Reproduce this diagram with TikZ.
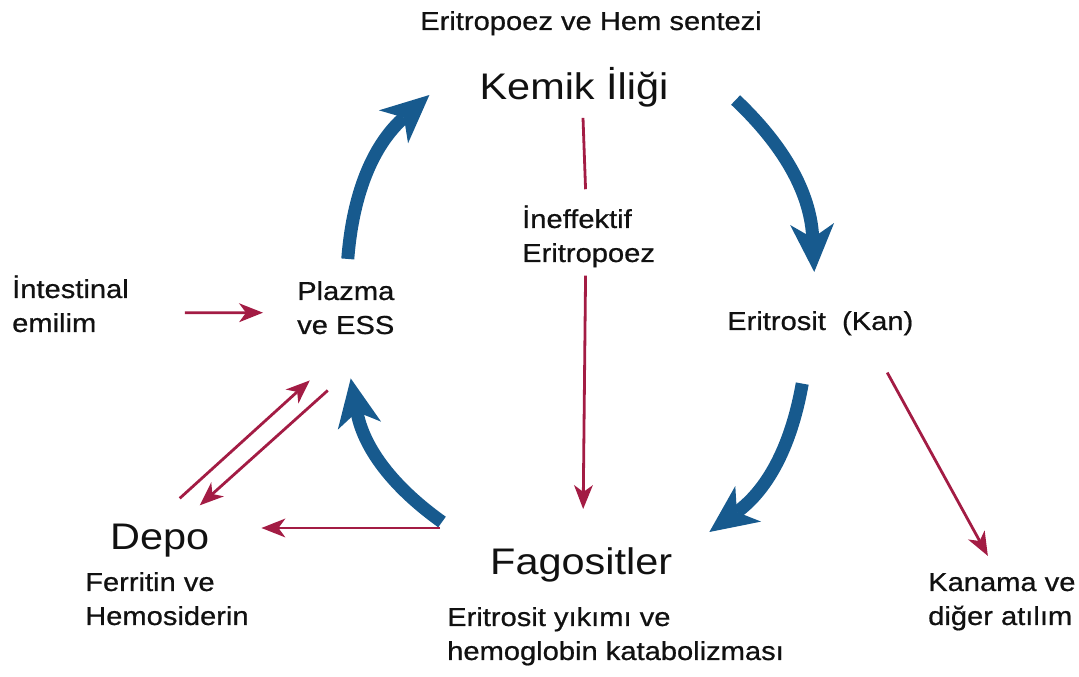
\documentclass[tikz,border=0pt]{standalone}
\usepackage{fontspec}
\setmainfont{Liberation Sans}[FakeStretch=1.12]
\newfontfamily\lblfont{Liberation Sans}[FakeStretch=1.12, FakeBold=0.7]
\usetikzlibrary{arrows.meta}
\definecolor{ironBlue}{HTML}{175A8E}
\definecolor{ironRed}{HTML}{A31C44}
\definecolor{ironInk}{HTML}{111111}
\tikzset{
  lbl/.style={inner sep=0pt, font=\lblfont\fontsize{26}{34}\selectfont, text=ironInk, align=left},
  big/.style={inner sep=0pt, font=\fontsize{37}{40}\selectfont, text=ironInk},
  flow/.style={-{Stealth[length=48pt,width=44pt,inset=14pt,line width=0pt]}, line width=13pt, draw=ironBlue},
  leak/.style={-{Stealth[length=24pt,width=19pt,inset=7pt,line width=0pt]}, line width=2.8pt, draw=ironRed},
}
\begin{document}
\begin{tikzpicture}[x=1pt,y=1pt]
\useasboundingbox (0,0) rectangle (1079,677);
% labels
\node[lbl, anchor=base] (synth) at (591,647) {Eritropoez ve Hem sentezi};
\node[big, anchor=base] (marrow) at (574,577) {Kemik İliği};
\node[lbl, anchor=base west] (ineff) at (522,415) {İneffektif\\Eritropoez};
\node[lbl, anchor=base west] (intest) at (12,345) {İntestinal\\emilim};
\node[lbl, anchor=base west] (plasma) at (297,343) {Plazma\\ve ESS};
\node[lbl, anchor=base west] (rbc) at (727,347) {Eritrosit\ \ (Kan)};
\node[big, anchor=base west] (depot) at (110,127) {Depo};
\node[lbl, anchor=base west] (ferr) at (85,52) {Ferritin ve\\Hemosiderin};
\node[big, anchor=base west] (phago) at (490,102) {Fagositler};
\node[lbl, anchor=base west] (lysis) at (447,17) {Eritrosit yıkımı ve\\hemoglobin katabolizması};
\node[lbl, anchor=base west] (loss) at (928,52) {Kanama ve\\diğer atılım};
% main cycle
\draw[flow] ([shift={(2,22)}]plasma.north) to[bend left=22] ([shift={(-50,5)}]marrow.base west);
\draw[flow] ([shift={(67,0)}]marrow.base east) to[bend left=22] ([shift={(-6,39)}]rbc.north);
\draw[flow] ([shift={(-18,-48)}]rbc.south) to[bend left=22] ([shift={(37,43)}]phago.base east);
\draw[flow] ([shift={(-48,53)}]phago.base west) to[bend left=22] ([shift={(5,-44)}]plasma.south);
% side paths
\draw[draw=ironRed, line width=2.8pt] ([shift={(9,-10)}]marrow.south) -- ([shift={(-3,16)}]ineff.north);
\draw[leak] ([shift={(-3,-8)}]ineff.south) -- ([shift={(2,39)}]phago.north);
\draw[leak] ([shift={(56,-9)}]intest.east) -- ([shift={(-34,-5)}]plasma.west);
\draw[leak] ([shift={(-50,47)}]phago.base west) -- ([shift={(52,22)}]depot.base east);
\draw[leak] ([shift={(20,26)}]depot.north) -- ([shift={(-36,-46)}]plasma.south);
\draw[leak] ([shift={(-18,-56)}]plasma.south) -- ([shift={(40,19)}]depot.north);
\draw[leak] ([shift={(67,-37)}]rbc.south) -- ([shift={(-14,17)}]loss.north);
\end{tikzpicture}
\end{document}
